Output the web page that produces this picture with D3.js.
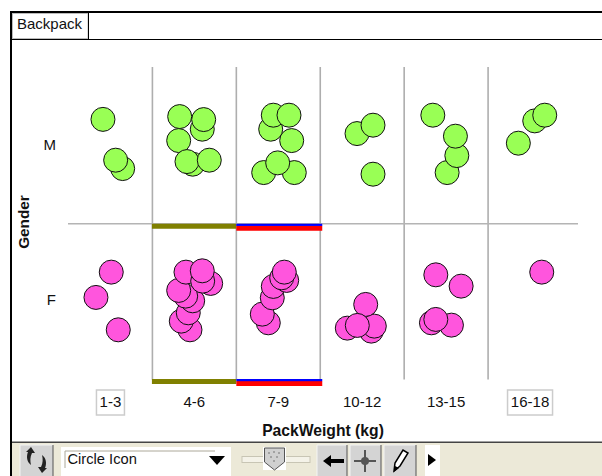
<!DOCTYPE html>
<html>
<head>
<meta charset="utf-8">
<script src="https://cdnjs.cloudflare.com/ajax/libs/d3/7.8.5/d3.min.js"></script>
<style>
  html, body { margin: 0; padding: 0; background: #fff; }
  svg { display: block; font-family: "Liberation Sans", Arial, sans-serif; }
  .axis .domain, .axis line { display: none; }
  .axis text { font-size: 15px; fill: #111; font-family: "Liberation Sans", Arial, sans-serif; }
</style>
</head>
<body>
<div id="chart"></div>
<script>
var weightBins = ["1-3", "4-6", "7-9", "10-12", "13-15", "16-18"];
var genders = ["M", "F"];

// offset of each icon inside its cell, drawing order kept
var maleBin = ["1-3","1-3","1-3",
  "4-6","4-6","4-6","4-6","4-6","4-6","4-6",
  "7-9","7-9","7-9","7-9","7-9","7-9","7-9",
  "10-12","10-12","10-12",
  "13-15","13-15","13-15","13-15",
  "16-18","16-18","16-18"];
var maleOffsetX = [-7.5,12.2,5.2,
  7.9,9.3,-14.7,-15.7,-1.7,-7.4,14.9,
  -7.6,-5,10.7,13.4,-14.6,16,-0.6,
  -5.2,10.8,10.8,
  -13.3,1,10.7,9.3,
  4.7,14.7,-11.7];
var maleOffsetY = [-26,23.2,14.8,
  -16.2,-25.8,-28.8,-4.8,18.8,16.2,14.8,
  -16.2,-30.2,-30.2,-4.8,27.2,27.2,17.5,
  -11.8,-20.2,28.8,
  -30.2,27.2,10.2,-9.2,
  -24.5,-30.2,-2.2];

var femaleBin = ["1-3","1-3","1-3",
  "4-6","4-6","4-6","4-6","4-6","4-6","4-6","4-6","4-6","4-6",
  "7-9","7-9","7-9","7-9","7-9","7-9","7-9",
  "10-12","10-12","10-12","10-12","10-12",
  "13-15","13-15","13-15","13-15","13-15",
  "16-18"];
var femaleOffsetX = [0.8,-14.5,7.8,
  -4.4,-13.1,-6.1,-1.7,-8.7,-15.7,16.3,-8.4,8.3,7.9,
  -10,-16,-6,-5,8.4,3.4,6,
  9.1,12.1,-14.9,3.5,-4.9,
  -10.3,15,-14.7,5.3,-10.3,
  11.7];
var femaleOffsetY = [-30,-4.7,27.7,
  27.7,19,10.7,-1.3,-6,-11.7,-18.7,-30,-21,-31.3,
  20.7,12,-4.3,-15.7,-21.7,-24.3,-30,
  29,24,26,2.3,23.3,
  -27.3,-16,20.7,23,17.3,
  -30];

// selected bins are marked under the row line and under the plot
var highlightBins = ["4-6", "7-9"];
var boxedBins = ["1-3", "16-18"];

var width = 602, height = 476;
var iconRadius = 12;

var svg = d3.select("#chart").append("svg")
  .attr("width", width)
  .attr("height", height);

// frame and tab
svg.append("rect").attr("x", 10).attr("y", 11).attr("width", width - 10).attr("height", 2).attr("fill", "#000");
svg.append("rect").attr("x", 10).attr("y", 11).attr("width", 2).attr("height", height - 11).attr("fill", "#000");
svg.append("rect").attr("x", 12).attr("y", 39).attr("width", width - 12).attr("height", 1).attr("fill", "#000");
svg.append("rect").attr("x", 12.5).attr("y", 13.5).attr("width", 75.5).attr("height", 25).attr("fill", "#fff").attr("stroke", "#bbb");
svg.append("rect").attr("x", 88).attr("y", 13).attr("width", 1).attr("height", 26).attr("fill", "#000");
svg.append("text").attr("x", 17).attr("y", 29).attr("font-size", 15).attr("fill", "#111").text("Backpack");

var x = d3.scaleBand().domain(weightBins).range([68.5, 572]);
var y = d3.scaleBand().domain(genders).range([67, 380.5]);
var jitterX = d3.scaleLinear().domain([-x.bandwidth() / 2, x.bandwidth() / 2]).range([0, x.bandwidth()]);
var jitterY = d3.scaleLinear().domain([-y.bandwidth() / 2, y.bandwidth() / 2]).range([0, y.bandwidth()]);

// box behind the two outer labels
var boxWidth = { "1-3": 28, "16-18": 45 };
svg.selectAll("rect.box").data(boxedBins).enter().append("rect")
  .attr("class", "box")
  .attr("x", function(d) { return x(d) + x.bandwidth() / 2 - boxWidth[d] / 2; })
  .attr("y", 390)
  .attr("width", function(d) { return boxWidth[d]; })
  .attr("height", 25)
  .attr("fill", "#fff")
  .attr("stroke", "#ccc")
  .attr("stroke-width", 1.5);

svg.append("g").attr("class", "axis")
  .attr("transform", "translate(0,393)")
  .call(d3.axisBottom(x).tickSize(0).tickPadding(3));

svg.append("g").attr("class", "axis")
  .attr("transform", "translate(56,0)")
  .call(d3.axisLeft(y).tickSize(0).tickPadding(0))
  .selectAll("text")
  .attr("y", function(d) { return d == "F" ? -1.5 : 0; });

svg.append("text")
  .attr("x", 323).attr("y", 436)
  .attr("text-anchor", "middle")
  .attr("font-size", 15.7).attr("font-weight", "bold").attr("fill", "#111")
  .text("PackWeight (kg)");

svg.append("text")
  .attr("transform", "translate(29,222) rotate(-90)")
  .attr("text-anchor", "middle")
  .attr("font-size", 15.3).attr("font-weight", "bold").attr("fill", "#111")
  .text("Gender");

// grid lines between the cells
svg.selectAll("line.col").data(weightBins.slice(1)).enter().append("line")
  .attr("class", "col")
  .attr("x1", function(d) { return x(d); })
  .attr("x2", function(d) { return x(d); })
  .attr("y1", y.range()[0])
  .attr("y2", y.range()[1] - 1)
  .attr("stroke", "#aeaeae")
  .attr("stroke-width", 1.6);

svg.append("line")
  .attr("x1", 68).attr("x2", 578)
  .attr("y1", y("F")).attr("y2", y("F"))
  .attr("stroke", "#b4b4b4")
  .attr("stroke-width", 1.6);

// selection bars
[y("F"), y.range()[1] - 1.5].forEach(function(top) {
  var olive = highlightBins[0], both = highlightBins[1];
  svg.append("rect").attr("x", x(olive) - 0.5).attr("y", top).attr("width", x.bandwidth() + 0.5).attr("height", 5).attr("fill", "#808000");
  svg.append("rect").attr("x", x(both)).attr("y", top + 2).attr("width", x.bandwidth() + 2).attr("height", 5).attr("fill", "#ff0000");
  svg.append("rect").attr("x", x(both)).attr("y", top).attr("width", x.bandwidth() + 2).attr("height", 2.2).attr("fill", "#0000ff");
});

function drawIcons(gender, bins, offX, offY, colour) {
  svg.append("g").selectAll("circle").data(bins).enter().append("circle")
    .attr("cx", function(d, i) { return x(d) + jitterX(offX[i]); })
    .attr("cy", function(d, i) { return y(gender) + jitterY(offY[i]); })
    .attr("r", iconRadius)
    .attr("fill", colour)
    .attr("stroke", "#111")
    .attr("stroke-width", 1);
}
drawIcons("M", maleBin, maleOffsetX, maleOffsetY, "#99ff55");
drawIcons("F", femaleBin, femaleOffsetX, femaleOffsetY, "#ff55dd");

// toolbar
var bar = svg.append("g");
bar.append("rect").attr("x", 12).attr("y", 443).attr("width", width - 12).attr("height", 33).attr("fill", "#ece9d8");
bar.append("rect").attr("x", 12).attr("y", 441.5).attr("width", width - 12).attr("height", 1.5).attr("fill", "#444");

function button(bx, bw) {
  bar.append("rect").attr("x", bx).attr("y", 445).attr("width", bw).attr("height", 31).attr("fill", "#d4d4d4");
  bar.append("path").attr("d", "M" + bx + ",476V445H" + (bx + bw)).attr("fill", "none").attr("stroke", "#f4f4f4");
  bar.append("path").attr("d", "M" + (bx + bw) + ",445V476").attr("fill", "none").attr("stroke", "#555");
}
button(20, 33);
bar.append("path").attr("d", "M31,447l-5,5l2,0c-2,5,-1,10,3,13c-1,-4,-1,-8,1,-12l3,0z").attr("fill", "#222");
bar.append("path").attr("d", "M42,473l5,-5l-2,0c2,-5,1,-10,-3,-13c1,4,1,8,-1,12l-3,0z").attr("fill", "#222");

bar.append("rect").attr("x", 61).attr("y", 447).attr("width", 170).attr("height", 29).attr("fill", "#fff");
bar.append("path").attr("d", "M65,468V451H215").attr("fill", "none").attr("stroke", "#aca899");
bar.append("text").attr("x", 67.5).attr("y", 464).attr("font-size", 14.7).attr("fill", "#111").text("Circle Icon");
bar.append("path").attr("d", "M209,456H225L217,465z").attr("fill", "#000");

bar.append("rect").attr("x", 242).attr("y", 456.5).attr("width", 68).attr("height", 6).attr("fill", "#f4f2e8").attr("stroke", "#c8c5b4");
bar.append("rect").attr("x", 263).attr("y", 447).attr("width", 23).attr("height", 23).attr("fill", "#fff");
bar.append("path").attr("d", "M264.5,448H284.5V462L274.5,470L264.5,462z").attr("fill", "#d0d0d0").attr("stroke", "#555");
[[269,453],[274,452],[279,453],[271,457],[277,457],[274,461]].forEach(function(p) {
  bar.append("circle").attr("cx", p[0]).attr("cy", p[1]).attr("r", 0.8).attr("fill", "#666");
});

button(317, 30);
bar.append("path").attr("d", "M323,461l8,-6v4h13v4h-13v4z").attr("fill", "#000");
button(350, 31);
bar.append("path").attr("d", "M365,450v22M354,461h22").attr("stroke", "#555").attr("stroke-width", 2);
bar.append("circle").attr("cx", 365).attr("cy", 461).attr("r", 4).attr("fill", "#555");
button(384, 32);
bar.append("path").attr("d", "M394,471l1,-8l8,-13l5,3l-8,13z").attr("fill", "#fff").attr("stroke", "#000").attr("stroke-width", 1.5);
bar.append("path").attr("d", "M394,472l1,-6l4,2z").attr("fill", "#000");

bar.append("rect").attr("x", 425).attr("y", 445).attr("width", 15).attr("height", 31).attr("fill", "#fff");
bar.append("path").attr("d", "M428,454L436,460L428,466z").attr("fill", "#000");
</script>
</body>
</html>
